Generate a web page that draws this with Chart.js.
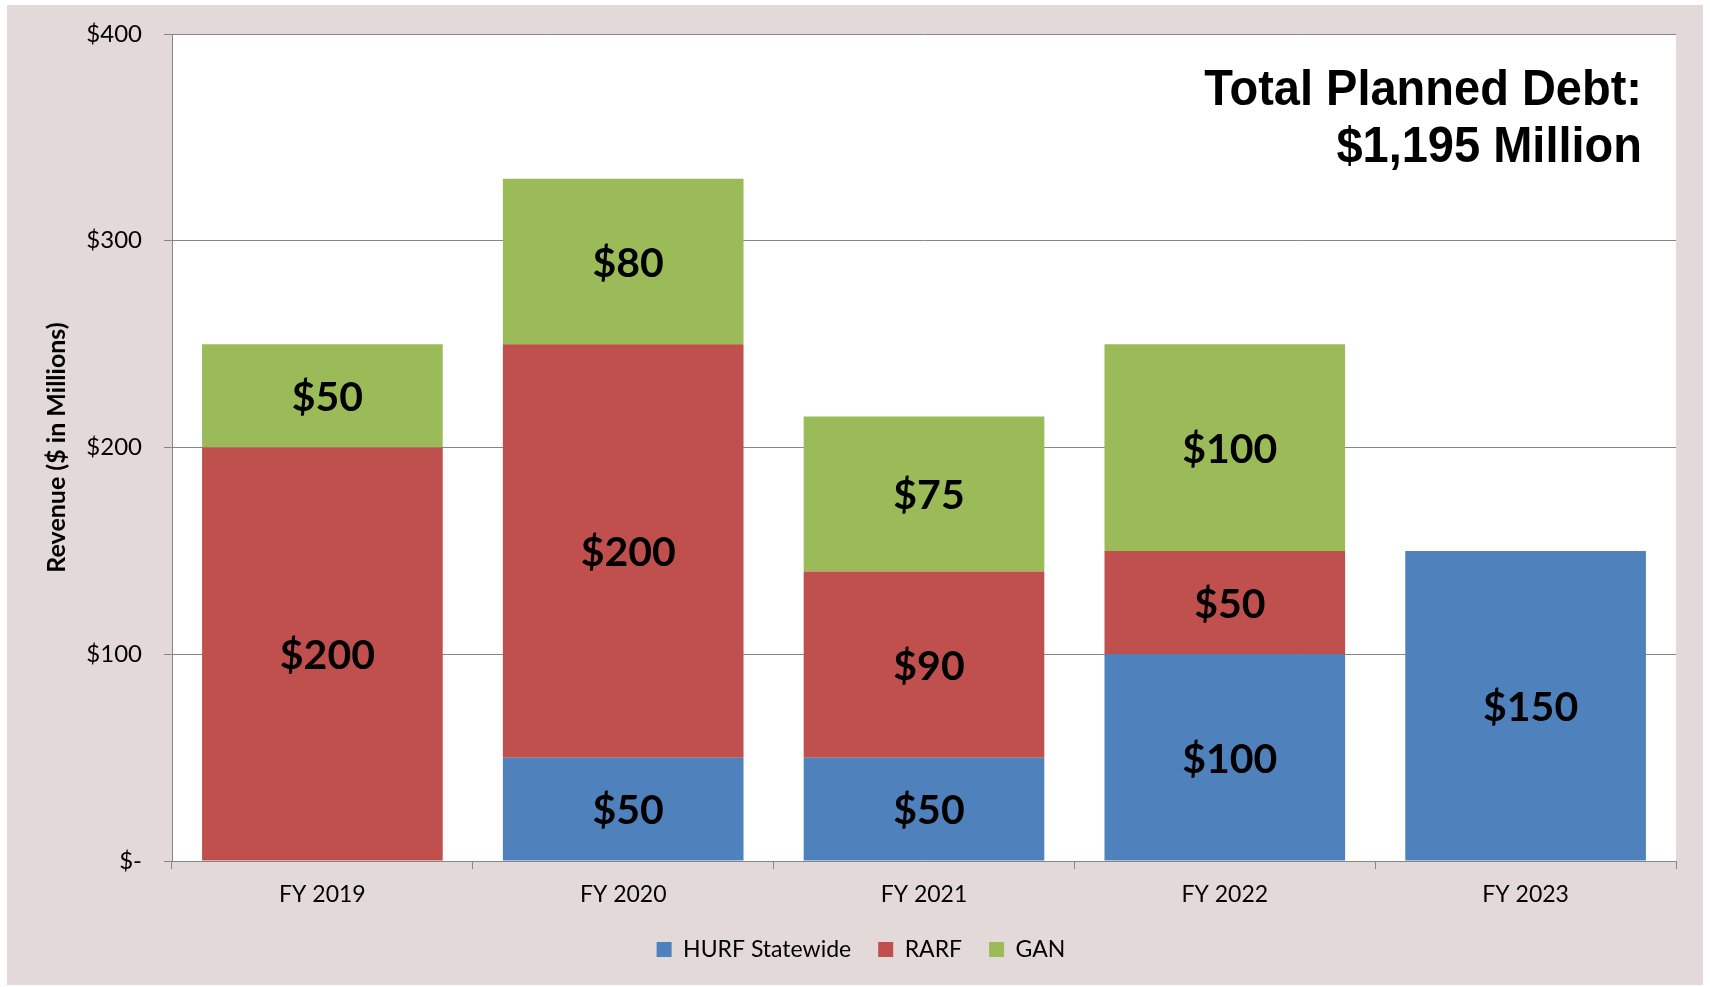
<!DOCTYPE html>
<html lang="en">
<head>
  <meta charset="UTF-8">
  <title>Total Planned Debt</title>
  <script src="https://cdn.jsdelivr.net/npm/chart.js"></script>
  <style>
    body { margin: 0; background: #ffffff; }
    .frame {
      position: absolute; left: 7px; top: 5px;
      width: 1696px; height: 980px;
      background: #e4d9d9;
    }
  </style>
</head>
<body>
  <div class="frame">
    <canvas id="graficoDebt" width="1696" height="980"></canvas>
  </div>

  <script>
    const years = ['FY 2019', 'FY 2020', 'FY 2021', 'FY 2022', 'FY 2023'];
    const hurf = [0, 50, 50, 100, 150];
    const rarf = [200, 200, 90, 50, 0];
    const gan = [50, 80, 75, 100, 0];
    const yTicks = [0, 100, 200, 300, 400];
    const titleLines = ['Total Planned Debt:', '$1,195 Million'];

    const gridGray = '#868686';

    // white plot area on top of the grey-pink frame
    const plotBg = {
      id: 'plotBg',
      beforeDraw(chart) {
        const a = chart.chartArea, ctx = chart.ctx;
        ctx.save();
        ctx.fillStyle = '#ffffff';
        ctx.fillRect(a.left, a.top, a.right - a.left, a.bottom - a.top);
        ctx.restore();
      }
    };

    // value labels in the middle of every segment
    const segLabels = {
      id: 'segLabels',
      afterDatasetsDraw(chart) {
        const ctx = chart.ctx;
        ctx.save();
        ctx.font = 'bold 41px Lato';
        ctx.fillStyle = '#000000';
        ctx.textAlign = 'center';
        ctx.textBaseline = 'middle';
        chart.data.datasets.forEach((ds, i) => {
          chart.getDatasetMeta(i).data.forEach((bar, j) => {
            const v = ds.data[j];
            if (!v) return;
            ctx.fillText('$' + v, bar.x + 5, (bar.y + bar.base) / 2 + 2);
          });
        });
        ctx.restore();
      }
    };

    // the "Total Planned Debt" note in the upper right corner
    const totalNote = {
      id: 'totalNote',
      afterDraw(chart) {
        const a = chart.chartArea, ctx = chart.ctx;
        ctx.save();
        ctx.font = 'bold 47px "Liberation Sans"';
        ctx.fillStyle = '#000000';
        ctx.textAlign = 'right';
        ctx.textBaseline = 'alphabetic';
        ctx.translate(a.right - 34, a.top);
        ctx.scale(1, 1.05);
        ctx.fillText(titleLines[0], 0, 71 / 1.05);
        ctx.fillText(titleLines[1], 0, 128 / 1.05);
        ctx.restore();
      }
    };

    new Chart(document.getElementById('graficoDebt'), {
      type: 'bar',
      data: {
        labels: years,
        datasets: [
          { label: 'HURF Statewide', data: hurf, backgroundColor: '#4f81bd' },
          { label: 'RARF', data: rarf, backgroundColor: '#c0504d' },
          { label: 'GAN', data: gan, backgroundColor: '#9bbb59' }
        ]
      },
      options: {
        responsive: false,
        animation: false,
        categoryPercentage: 1,
        barPercentage: 0.8,
        layout: { autoPadding: false, padding: { left: 39, right: 27, top: 29, bottom: 14 } },
        plugins: {
          legend: {
            position: 'bottom',
            labels: {
              font: { family: 'Lato', size: 23 },
              color: '#000000',
              boxWidth: 15,
              boxHeight: 15,
              padding: 27
            }
          },
          tooltip: { enabled: false }
        },
        scales: {
          x: {
            stacked: true,
            afterFit(scale) { scale.height = 50; },
            grid: { drawOnChartArea: false, drawTicks: true, tickLength: 8, color: gridGray, offset: true },
            border: { color: gridGray, width: 1 },
            ticks: { font: { family: 'Lato', size: 23 }, color: '#000000', padding: 12 }
          },
          y: {
            stacked: true,
            min: 0,
            max: 400,
            afterBuildTicks(scale) {
              scale.ticks = yTicks.map(v => ({ value: v }));
            },
            afterFit(scale) {
              scale.width = 126;
              scale.paddingTop = 0;
              scale.paddingBottom = 0;
            },
            grid: { color: gridGray, lineWidth: 1, tickLength: 8 },
            border: { color: gridGray, width: 1 },
            ticks: {
              font: { family: 'Lato', size: 24 },
              color: '#000000',
              padding: 22,
              callback: v => v === 0 ? '$-' : '$' + v
            },
            title: {
              display: true,
              text: 'Revenue ($ in Millions)',
              font: { family: 'Lato', size: 25, weight: 'bold' },
              color: '#000000',
              padding: { top: -4, bottom: 0 }
            }
          }
        }
      },
      plugins: [plotBg, segLabels, totalNote]
    });
  </script>
</body>
</html>
